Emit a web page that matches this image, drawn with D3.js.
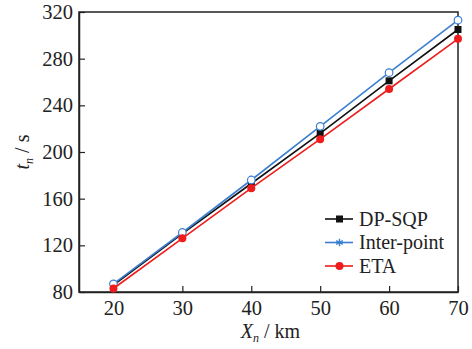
<!DOCTYPE html>
<html>
<head>
<meta charset="utf-8">
<script src="https://cdn.jsdelivr.net/npm/d3@7"></script>
<style>
  body { margin: 0; background: #fff; }
</style>
</head>
<body>
<div id="graph"></div>
<script>
// distances along the route
var distances = [20, 30, 40, 50, 60, 70];

// time values for each method
var dpSqp = [86, 130, 173, 216, 261, 305];
var interPoint = [87, 131, 176, 222, 268, 313];
var eta = [83, 126, 169, 211, 254, 297];

var xTicks = [20, 30, 40, 50, 60, 70];
var yTicks = [80, 120, 160, 200, 240, 280, 320];

var FONT = 'Liberation Serif';

var width = 472;
var height = 349;
var margin = { left: 79, right: 14, top: 12, bottom: 57 };

var svg = d3.select('#graph')
    .append('svg')
    .attr('width', width)
    .attr('height', height)
    .attr('font-family', FONT);

var xScale = d3.scaleLinear().domain([15, 70]).range([margin.left, width - margin.right]);
var yScale = d3.scaleLinear().domain([80, 320]).range([height - margin.bottom, margin.top]);

// frame around the plot
svg.append('rect')
    .attr('x', xScale(15))
    .attr('y', yScale(320))
    .attr('width', xScale(70) - xScale(15))
    .attr('height', yScale(80) - yScale(320))
    .attr('fill', 'none')
    .attr('stroke', '#222')
    .attr('stroke-width', 1.5);

var xAxis = d3.axisBottom(xScale).tickValues(xTicks).tickSizeInner(-6).tickSizeOuter(0).tickPadding(8);
var yAxis = d3.axisLeft(yScale).tickValues(yTicks).tickSizeInner(-6).tickSizeOuter(0).tickPadding(6);

function styleAxis(g) {
    g.attr('font-family', FONT).attr('font-size', 20.5);
    g.select('.domain').attr('stroke', '#222').attr('stroke-width', 1.5);
    g.selectAll('.tick line').attr('stroke', '#222').attr('stroke-width', 1.2);
    g.selectAll('.tick text').attr('fill', '#222').attr('font-family', FONT);
}

svg.append('g')
    .attr('transform', 'translate(0,' + yScale(80) + ')')
    .call(xAxis)
    .call(styleAxis);

svg.append('g')
    .attr('transform', 'translate(' + xScale(15) + ',0)')
    .call(yAxis)
    .call(styleAxis);

// axis titles
var xLabel = svg.append('text')
    .attr('x', (xScale(15) + xScale(70)) / 2 + 2)
    .attr('y', 338)
    .attr('text-anchor', 'middle')
    .attr('font-family', FONT)
    .attr('font-size', 20)
    .attr('fill', '#222');
xLabel.append('tspan').attr('font-style', 'italic').text('X');
xLabel.append('tspan').attr('font-style', 'italic').attr('font-size', 12).attr('dy', 4).text('n');
xLabel.append('tspan').attr('dy', -4).text(' / km');

var yLabel = svg.append('text')
    .attr('transform', 'translate(29,' + ((yScale(80) + yScale(320)) / 2) + ') rotate(-90)')
    .attr('text-anchor', 'middle')
    .attr('font-family', FONT)
    .attr('font-size', 20)
    .attr('fill', '#222');
yLabel.append('tspan').attr('font-style', 'italic').text('t');
yLabel.append('tspan').attr('font-style', 'italic').attr('font-size', 12).attr('dy', 4).text('n');
yLabel.append('tspan').attr('dy', -4).text(' / s');

var series = [
    { name: 'DP-SQP', values: dpSqp, color: '#111', marker: 'square' },
    { name: 'Inter-point', values: interPoint, color: '#3b7fd0', marker: 'circleOpen' },
    { name: 'ETA', values: eta, color: '#ee1c1c', marker: 'circle' }
];

var line = d3.line()
    .x(function(d) { return xScale(d[0]); })
    .y(function(d) { return yScale(d[1]); });

var plot = svg.append('g');

series.forEach(function(s) {
    var pts = distances.map(function(x, i) { return [x, s.values[i]]; });
    plot.append('path')
        .datum(pts)
        .attr('d', line)
        .attr('fill', 'none')
        .attr('stroke', s.color)
        .attr('stroke-width', 1.6);

    pts.forEach(function(p) {
        drawMarker(plot, s.marker, xScale(p[0]), yScale(p[1]), s.color);
    });
});

function drawMarker(g, type, cx, cy, color) {
    if (type === 'square') {
        g.append('rect')
            .attr('x', cx - 3.5).attr('y', cy - 3.5)
            .attr('width', 7).attr('height', 7)
            .attr('fill', color);
    } else if (type === 'circleOpen') {
        g.append('circle')
            .attr('cx', cx).attr('cy', cy).attr('r', 3.8)
            .attr('fill', '#fff').attr('stroke', color).attr('stroke-width', 1.2);
    } else if (type === 'circle') {
        g.append('circle')
            .attr('cx', cx).attr('cy', cy).attr('r', 4)
            .attr('fill', color);
    } else if (type === 'star') {
        var sym = d3.symbol().type(d3.symbolAsterisk).size(40);
        g.append('path')
            .attr('transform', 'translate(' + cx + ',' + cy + ')')
            .attr('d', sym())
            .attr('fill', 'none').attr('stroke', color).attr('stroke-width', 1.4);
    }
}

// legend
var legend = svg.append('g');
var legendMarkers = ['square', 'star', 'circle'];
series.forEach(function(s, i) {
    var y = 219 + i * 23.5;
    legend.append('line')
        .attr('x1', 325).attr('x2', 353)
        .attr('y1', y).attr('y2', y)
        .attr('stroke', s.color).attr('stroke-width', 1.6);
    drawMarker(legend, legendMarkers[i], 339.5, y, s.color);
    legend.append('text')
        .attr('x', 359).attr('y', y + 6.5)
        .attr('font-family', FONT)
        .attr('font-size', 20)
        .attr('fill', '#222')
        .text(s.name);
});
</script>
</body>
</html>
